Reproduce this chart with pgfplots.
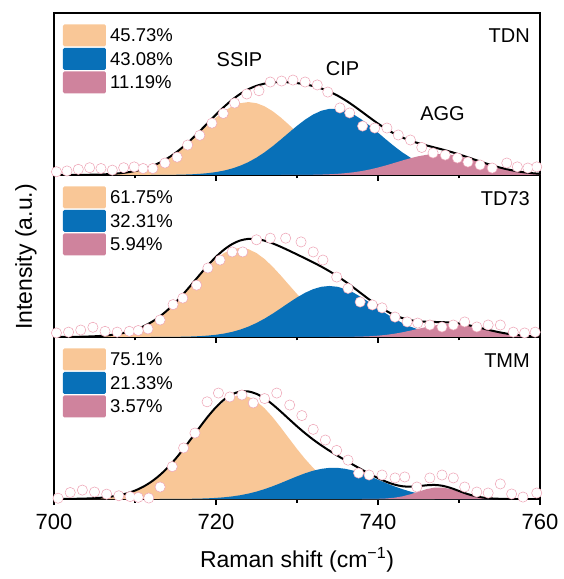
\documentclass[border=0pt]{standalone}
\usepackage{fontspec}
\setmainfont{Liberation Sans}
\usepackage{pgfplots}
\usepackage{pgfplotstable}
\pgfplotsset{compat=1.18}
\definecolor{cO}{RGB}{249,199,151}
\definecolor{cB}{RGB}{8,112,184}
\definecolor{cP}{RGB}{207,131,157}
\definecolor{cC}{RGB}{240,172,188}
\pgfplotstableread{
x y
700.5 0.005
702.0 0.04
703.5 0.055
705.0 0.043
706.5 0.03
708.0 0.02
709.4 0.015
710.4 0.01
711.7 0.006
713.1 0.074
714.6 0.2
716.0 0.315
717.4 0.407
718.9 0.6
720.3 0.654
721.7 0.63
723.2 0.642
724.6 0.593
726.0 0.62
727.5 0.654
729.1 0.58
730.6 0.515
732.0 0.43
733.5 0.364
734.9 0.30
736.3 0.24
737.6 0.16
738.9 0.148
740.5 0.148
742.1 0.13
743.3 0.136
744.8 0.074
746.4 0.13
747.9 0.148
749.3 0.13
750.7 0.074
752.2 0.043
753.6 0.037
755.1 0.093
756.5 0.031
757.9 0.012
759.6 0.037
}\dTMM
\pgfplotstableread{
x y
700.3 0.025
701.8 0.03
703.3 0.043
704.8 0.06
706.3 0.035
707.8 0.03
709.3 0.035
710.4 0.04
711.6 0.05
713.1 0.105
714.7 0.2
715.9 0.24
717.6 0.32
719.0 0.426
720.5 0.475
722.0 0.525
723.3 0.525
725.0 0.6
726.7 0.61
728.6 0.61
730.5 0.587
732.0 0.525
733.2 0.475
734.9 0.37
736.3 0.30
737.8 0.216
739.3 0.198
740.5 0.18
742.1 0.123
743.6 0.093
744.9 0.086
746.4 0.074
747.9 0.062
749.3 0.074
750.7 0.093
752.2 0.062
753.6 0.074
755.1 0.074
756.7 0.03
758.1 0.025
759.4 0.03
}\dTDS
\pgfplotstableread{
x y
700.3 0.02
701.6 0.025
703.0 0.035
704.4 0.045
705.8 0.04
707.2 0.03
708.6 0.045
709.9 0.05
711.0 0.04
712.2 0.04
713.7 0.074
715.2 0.11
716.5 0.185
718.0 0.245
719.5 0.32
720.9 0.38
722.3 0.444
723.8 0.50
725.3 0.52
726.7 0.574
728.1 0.58
729.5 0.586
731.0 0.574
732.5 0.556
733.8 0.512
735.3 0.414
736.5 0.383
738.1 0.302
739.6 0.29
741.1 0.29
742.5 0.247
744.0 0.216
745.4 0.17
746.8 0.136
748.3 0.123
749.8 0.105
751.1 0.08
752.6 0.062
754.1 0.043
755.9 0.074
757.2 0.05
758.5 0.043
759.6 0.05
}\dTDN
\pgfplotsset{panel/.style={width=486pt,height=162pt,scale only axis,
  xmin=700,xmax=760,ymin=0,ymax=1,ytick=\empty,
  xtick={700,720,740,760},minor xtick={710,730,750},
  xtick pos=left,tick align=outside,
  major tick length=6pt,minor tick length=3.5pt,
  every tick/.style={black,line width=1.2pt},
  axis line style={line width=1.5pt},
  /pgf/number format/assume math mode=true,
  ticklabel style={font=\fontsize{22}{26}\selectfont},
  xticklabel style={yshift=-5.5pt},
  anchor=south west},
  ring/.style={only marks,cC,mark=*,mark size=5pt,mark options={solid,fill=white,draw=cC,line width=0.8pt}},
  dot/.style={only marks,white,mark=*,mark size=4.4pt,mark options={solid,fill=white,draw=white,line width=0.2pt}},
  env/.style={black,line width=2pt,smooth,no marks}}
\begin{document}
\begin{tikzpicture}
\useasboundingbox (-54pt,-80pt) rectangle (509pt,499pt);
% ---------------- bottom: TMM
\begin{axis}[panel,at={(0pt,0pt)},
  xlabel={Raman shift (cm\textsuperscript{−1})},
  xlabel style={font=\fontsize{23}{27}\selectfont,at={(axis description cs:0.5,0)},anchor=center,yshift=-61pt}]
\addplot[ring] table {\dTMM};
\addplot[draw=none,fill=cO] coordinates {(700,0.0003)(701,0.0005)(702,0.0009)(703,0.0017)(704,0.0030)(705,0.0052)(706,0.0087)(707,0.0143)(708,0.0226)(709,0.0348)(710,0.0519)(711,0.0753)(712,0.1060)(713,0.1448)(714,0.1920)(715,0.2472)(716,0.3090)(717,0.3748)(718,0.4413)(719,0.5046)(720,0.5599)(721,0.6031)(722,0.6306)(723,0.6400)(724,0.6306)(725,0.6031)(726,0.5599)(727,0.5046)(728,0.4413)(729,0.3748)(730,0.3090)(731,0.2472)(732,0.1920)(733,0.1448)(734,0.1060)(735,0.0753)(736,0.0519)(737,0.0348)(738,0.0226)(739,0.0143)(740,0.0087)(741,0.0052)(742,0.0030)(743,0.0017)(744,0.0009)(745,0.0005)(746,0.0003)(747,0)} \closedcycle;
\addplot[draw=none,fill=cB] coordinates {(713,0)(714,0.0002)(715,0.0004)(716,0.0008)(717,0.0015)(718,0.0025)(719,0.0042)(720,0.0068)(721,0.0106)(722,0.0160)(723,0.0234)(724,0.0333)(725,0.0458)(726,0.0610)(727,0.0787)(728,0.0984)(729,0.1192)(730,0.1397)(731,0.1588)(732,0.1747)(733,0.1862)(734,0.1922)(735,0.1922)(736,0.1862)(737,0.1747)(738,0.1588)(739,0.1397)(740,0.1192)(741,0.0984)(742,0.0787)(743,0.0610)(744,0.0458)(745,0.0333)(746,0.0234)(747,0.0160)(748,0.0106)(749,0.0068)(750,0.0042)(751,0.0025)(752,0.0015)(753,0.0008)(754,0.0004)(755,0.0002)(756,0)} \closedcycle;
\addplot[draw=none,fill=cP] coordinates {(738,0)(739,0.0003)(740,0.0011)(741,0.0032)(742,0.0077)(743,0.0161)(744,0.0291)(745,0.0453)(746,0.0610)(747,0.0707)(748,0.0707)(749,0.0610)(750,0.0453)(751,0.0291)(752,0.0161)(753,0.0077)(754,0.0032)(755,0.0011)(756,0.0003)(757,0)} \closedcycle;
\addplot[dot] table {\dTMM};
\addplot[env] coordinates {(700,0.0003)(701,0.0005)(702,0.0009)(703,0.0017)(704,0.0030)(705,0.0052)(706,0.0087)(707,0.0143)(708,0.0226)(709,0.0348)(710,0.0519)(711,0.0753)(712,0.1060)(713,0.1448)(714,0.1922)(715,0.2476)(716,0.3098)(717,0.3763)(718,0.4438)(719,0.5088)(720,0.5667)(721,0.6137)(722,0.6466)(723,0.6634)(724,0.6639)(725,0.6489)(726,0.6209)(727,0.5833)(728,0.5397)(729,0.4940)(730,0.4487)(731,0.4060)(732,0.3667)(733,0.3310)(734,0.2982)(735,0.2675)(736,0.2381)(737,0.2095)(738,0.1814)(739,0.1543)(740,0.1290)(741,0.1068)(742,0.0894)(743,0.0788)(744,0.0758)(745,0.0791)(746,0.0847)(747,0.0867)(748,0.0813)(749,0.0678)(750,0.0495)(751,0.0316)(752,0.0176)(753,0.0085)(754,0.0036)(755,0.0013)(756,0.0003)(757,0)(758,0)(759,0)(760,0)};
\end{axis}
% ---------------- middle: TD73
\begin{axis}[panel,at={(0pt,162pt)},xticklabels={}]
\addplot[ring] table {\dTDS};
\addplot[draw=none,fill=cO] coordinates {(700,0.0002)(701,0.0004)(702,0.0008)(703,0.0014)(704,0.0026)(705,0.0045)(706,0.0075)(707,0.0123)(708,0.0194)(709,0.0299)(710,0.0446)(711,0.0647)(712,0.0911)(713,0.1244)(714,0.1650)(715,0.2125)(716,0.2655)(717,0.3221)(718,0.3793)(719,0.4336)(720,0.4811)(721,0.5183)(722,0.5419)(723,0.5500)(724,0.5419)(725,0.5183)(726,0.4811)(727,0.4336)(728,0.3793)(729,0.3221)(730,0.2655)(731,0.2125)(732,0.1650)(733,0.1244)(734,0.0911)(735,0.0647)(736,0.0446)(737,0.0299)(738,0.0194)(739,0.0123)(740,0.0075)(741,0.0045)(742,0.0026)(743,0.0014)(744,0.0008)(745,0.0004)(746,0.0002)(747,0)} \closedcycle;
\addplot[draw=none,fill=cB] coordinates {(712,0)(713,0.0003)(714,0.0005)(715,0.0010)(716,0.0018)(717,0.0032)(718,0.0053)(719,0.0087)(720,0.0138)(721,0.0213)(722,0.0317)(723,0.0458)(724,0.0639)(725,0.0866)(726,0.1135)(727,0.1442)(728,0.1774)(729,0.2115)(730,0.2441)(731,0.2729)(732,0.2955)(733,0.3100)(734,0.3150)(735,0.3100)(736,0.2955)(737,0.2729)(738,0.2441)(739,0.2115)(740,0.1774)(741,0.1442)(742,0.1135)(743,0.0866)(744,0.0639)(745,0.0458)(746,0.0317)(747,0.0213)(748,0.0138)(749,0.0087)(750,0.0053)(751,0.0032)(752,0.0018)(753,0.0010)(754,0.0005)(755,0.0003)(756,0)} \closedcycle;
\addplot[draw=none,fill=cP] coordinates {(734,0)(735,0.0003)(736,0.0007)(737,0.0014)(738,0.0026)(739,0.0047)(740,0.0081)(741,0.0130)(742,0.0200)(743,0.0288)(744,0.0394)(745,0.0508)(746,0.0620)(747,0.0714)(748,0.0778)(749,0.0800)(750,0.0778)(751,0.0714)(752,0.0620)(753,0.0508)(754,0.0394)(755,0.0288)(756,0.0200)(757,0.0130)(758,0.0081)(759,0.0047)(760,0.0026)} \closedcycle;
\addplot[dot] table {\dTDS};
\addplot[env] coordinates {(700,0.0002)(701,0.0004)(702,0.0008)(703,0.0014)(704,0.0026)(705,0.0045)(706,0.0075)(707,0.0123)(708,0.0194)(709,0.0299)(710,0.0446)(711,0.0647)(712,0.0911)(713,0.1247)(714,0.1655)(715,0.2135)(716,0.2673)(717,0.3253)(718,0.3846)(719,0.4423)(720,0.4949)(721,0.5396)(722,0.5736)(723,0.5958)(724,0.6058)(725,0.6049)(726,0.5946)(727,0.5778)(728,0.5567)(729,0.5336)(730,0.5096)(731,0.4854)(732,0.4605)(733,0.4344)(734,0.4061)(735,0.3750)(736,0.3408)(737,0.3042)(738,0.2661)(739,0.2285)(740,0.1930)(741,0.1617)(742,0.1361)(743,0.1168)(744,0.1041)(745,0.0970)(746,0.0939)(747,0.0927)(748,0.0916)(749,0.0887)(750,0.0831)(751,0.0746)(752,0.0638)(753,0.0518)(754,0.0399)(755,0.0291)(756,0.0200)(757,0.0130)(758,0.0081)(759,0.0047)(760,0.0026)};
\end{axis}
% ---------------- top: TDN
\begin{axis}[panel,at={(0pt,324pt)},xticklabels={}]
\addplot[ring] table {\dTDN};
\addplot[draw=none,fill=cO] coordinates {(700,0)(701,0)(702,0.0004)(703,0.0006)(704,0.0012)(705,0.0021)(706,0.0036)(707,0.0061)(708,0.0100)(709,0.0159)(710,0.0244)(711,0.0365)(712,0.0529)(713,0.0745)(714,0.1018)(715,0.1350)(716,0.1738)(717,0.2173)(718,0.2635)(719,0.3103)(720,0.3548)(721,0.3937)(722,0.4240)(723,0.4434)(724,0.4500)(725,0.4434)(726,0.4240)(727,0.3937)(728,0.3548)(729,0.3103)(730,0.2635)(731,0.2173)(732,0.1738)(733,0.1350)(734,0.1018)(735,0.0745)(736,0.0529)(737,0.0365)(738,0.0244)(739,0.0159)(740,0.0100)(741,0.0061)(742,0.0036)(743,0.0021)(744,0.0012)(745,0.0006)(746,0.0004)(747,0)} \closedcycle;
\addplot[draw=none,fill=cB] coordinates {(712,0)(713,0.0004)(714,0.0008)(715,0.0014)(716,0.0025)(717,0.0043)(718,0.0072)(719,0.0115)(720,0.0180)(721,0.0273)(722,0.0402)(723,0.0574)(724,0.0796)(725,0.1072)(726,0.1401)(727,0.1777)(728,0.2188)(729,0.2615)(730,0.3034)(731,0.3417)(732,0.3736)(733,0.3965)(734,0.4085)(735,0.4085)(736,0.3965)(737,0.3736)(738,0.3417)(739,0.3034)(740,0.2615)(741,0.2188)(742,0.1777)(743,0.1401)(744,0.1072)(745,0.0796)(746,0.0574)(747,0.0402)(748,0.0273)(749,0.0180)(750,0.0115)(751,0.0072)(752,0.0043)(753,0.0025)(754,0.0014)(755,0.0008)(756,0.0004)(757,0)} \closedcycle;
\addplot[draw=none,fill=cP] coordinates {(728,0)(729,0.0002)(730,0.0005)(731,0.0008)(732,0.0015)(733,0.0027)(734,0.0045)(735,0.0072)(736,0.0113)(737,0.0169)(738,0.0245)(739,0.0342)(740,0.0459)(741,0.0595)(742,0.0743)(743,0.0894)(744,0.1036)(745,0.1158)(746,0.1247)(747,0.1294)(748,0.1294)(749,0.1247)(750,0.1158)(751,0.1036)(752,0.0894)(753,0.0743)(754,0.0595)(755,0.0459)(756,0.0342)(757,0.0245)(758,0.0169)(759,0.0113)(760,0.0072)} \closedcycle;
\addplot[dot] table {\dTDN};
\addplot[env] coordinates {(700,0)(701,0)(702,0.0004)(703,0.0006)(704,0.0012)(705,0.0021)(706,0.0036)(707,0.0061)(708,0.0100)(709,0.0159)(710,0.0244)(711,0.0365)(712,0.0529)(713,0.0749)(714,0.1026)(715,0.1364)(716,0.1763)(717,0.2216)(718,0.2707)(719,0.3218)(720,0.3728)(721,0.4210)(722,0.4642)(723,0.5008)(724,0.5296)(725,0.5506)(726,0.5641)(727,0.5714)(728,0.5736)(729,0.5720)(730,0.5674)(731,0.5598)(732,0.5489)(733,0.5342)(734,0.5148)(735,0.4902)(736,0.4607)(737,0.4270)(738,0.3906)(739,0.3535)(740,0.3174)(741,0.2844)(742,0.2556)(743,0.2316)(744,0.2120)(745,0.1960)(746,0.1825)(747,0.1696)(748,0.1567)(749,0.1427)(750,0.1273)(751,0.1108)(752,0.0937)(753,0.0768)(754,0.0609)(755,0.0467)(756,0.0346)(757,0.0245)(758,0.0169)(759,0.0113)(760,0.0072)};
\end{axis}
% ---------------- legends and labels
\begin{scope}[every node/.style={inner sep=0pt,anchor=west,font=\fontsize{18.5}{22}\selectfont}]
\fill[cO,rounded corners=1.5pt] (9pt,474.5pt) rectangle (52pt,452.5pt);
\fill[cB,rounded corners=1.5pt] (9pt,451pt) rectangle (52pt,429pt);
\fill[cP,rounded corners=1.5pt] (9pt,427.5pt) rectangle (52pt,405.5pt);
\node at (56pt,463.5pt) {45.73\%};
\node at (56pt,440pt) {43.08\%};
\node at (56pt,416.5pt) {11.19\%};
\fill[cO,rounded corners=1.5pt] (9pt,312.5pt) rectangle (52pt,290.5pt);
\fill[cB,rounded corners=1.5pt] (9pt,289pt) rectangle (52pt,267pt);
\fill[cP,rounded corners=1.5pt] (9pt,265.5pt) rectangle (52pt,243.5pt);
\node at (56pt,301.5pt) {61.75\%};
\node at (56pt,278pt) {32.31\%};
\node at (56pt,254.5pt) {5.94\%};
\fill[cO,rounded corners=1.5pt] (9pt,150.5pt) rectangle (52pt,128.5pt);
\fill[cB,rounded corners=1.5pt] (9pt,127pt) rectangle (52pt,105pt);
\fill[cP,rounded corners=1.5pt] (9pt,103.5pt) rectangle (52pt,81.5pt);
\node at (56pt,139.5pt) {75.1\%};
\node at (56pt,116pt) {21.33\%};
\node at (56pt,92.5pt) {3.57\%};
\end{scope}
\begin{scope}[every node/.style={inner sep=0pt,font=\fontsize{20}{24}\selectfont}]
\node[anchor=east] at (476pt,463pt) {TDN};
\node[anchor=east] at (476pt,300pt) {TD73};
\node[anchor=east] at (476pt,138pt) {TMM};
\node at (185.5pt,439.5pt) {SSIP};
\node at (288.5pt,430pt) {CIP};
\node at (388.5pt,385pt) {AGG};
\end{scope}
\node[rotate=90,inner sep=0pt,font=\fontsize{23}{27}\selectfont] at (-28pt,242pt) {Intensity (a.u.)};
\end{tikzpicture}
\end{document}
